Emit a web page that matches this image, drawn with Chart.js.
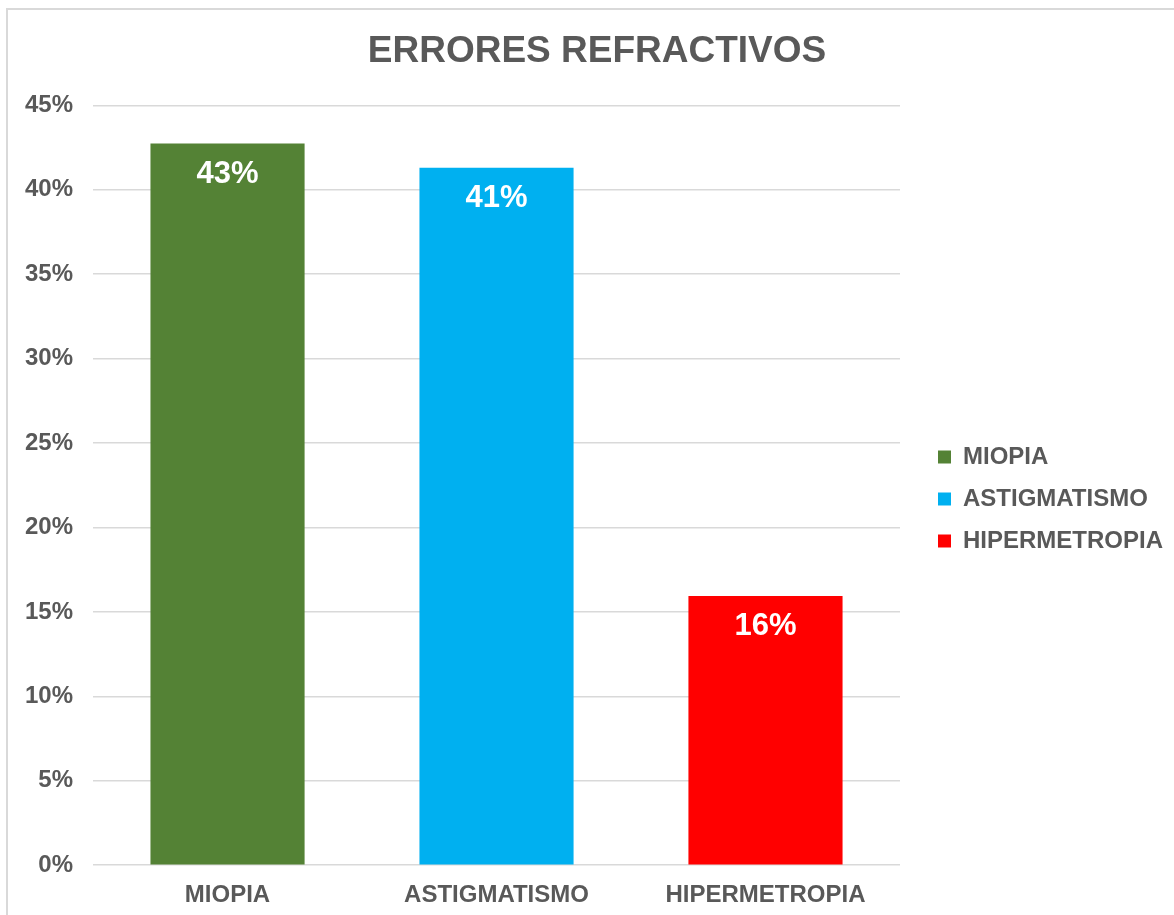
<!DOCTYPE html>
<html>
<head>
<meta charset="utf-8">
<title>Errores refractivos</title>
<script src="https://cdn.jsdelivr.net/npm/chart.js@4.4.1/dist/chart.umd.min.js"></script>
<style>
  html, body { margin: 0; padding: 0; background: #fff; overflow: hidden; }
  #frame {
    position: absolute; left: 6px; top: 8px;
    width: 1200px; height: 940px;
    border: 2px solid #d9d9d9; box-sizing: border-box;
  }
  #box { position: absolute; left: 0; top: 0; width: 1166px; height: 908px; }
</style>
</head>
<body>
<div id="frame"><div id="box"><canvas id="chart"></canvas></div></div>
<script>
  const categories = ['MIOPIA', 'ASTIGMATISMO', 'HIPERMETROPIA'];
  const percents = [42.75, 41.3, 15.95];
  const barColors = ['#548235', '#00b0f0', '#ff0000'];
  const yTicks = [0, 5, 10, 15, 20, 25, 30, 35, 40, 45];

  const grey = '#595959';
  const font = '"Liberation Sans", Arial, sans-serif';

  // white value labels just under the top of each bar
  const barLabels = {
    id: 'barLabels',
    afterDatasetsDraw(chart) {
      const ctx = chart.ctx;
      const meta = chart.getDatasetMeta(0);
      ctx.save();
      ctx.fillStyle = '#ffffff';
      ctx.font = 'bold 31px ' + font;
      ctx.textAlign = 'center';
      ctx.textBaseline = 'middle';
      meta.data.forEach((bar, i) => {
        ctx.fillText(Math.round(percents[i]) + '%', bar.x, bar.y + 31);
      });
      ctx.restore();
    }
  };

  // nudge the legend block right/down and centre the title on the whole canvas
  const boxShift = {
    id: 'boxShift',
    afterLayout(chart) {
      const lg = chart.legend;
      if (lg) {
        lg.left += 20; lg.right += 20;
        lg.top += 35; lg.bottom += 35;
      }
      const tt = chart.titleBlock;
      if (tt) {
        tt.left += 18; tt.right += 18;
      }
    }
  };

  new Chart(document.getElementById('chart'), {
    type: 'bar',
    data: {
      labels: categories,
      datasets: [{
        label: 'Errores refractivos',
        data: percents,
        backgroundColor: barColors,
        borderWidth: 0,
        categoryPercentage: 1,
        barPercentage: 0.573
      }]
    },
    options: {
      responsive: true,
      maintainAspectRatio: false,
      animation: false,
      layout: { padding: { left: -3, right: 21, top: 0, bottom: 0 } },
      plugins: {
        title: {
          display: true,
          text: 'ERRORES REFRACTIVOS',
          color: grey,
          font: { family: font, size: 37, weight: 'bold' },
          padding: { top: 20, bottom: 31 }
        },
        legend: {
          position: 'right',
          labels: {
            color: grey,
            font: { family: font, size: 24, weight: 'bold' },
            boxWidth: 13,
            boxHeight: 13,
            padding: 18,
            generateLabels: () => categories.map((c, i) => ({
              text: c,
              fillStyle: barColors[i],
              strokeStyle: barColors[i],
              lineWidth: 0,
              fontColor: grey,
              index: i
            }))
          },
          onClick: () => {}
        },
        tooltip: { enabled: false }
      },
      scales: {
        x: {
          grid: { display: false },
          border: { display: false },
          ticks: {
            color: grey,
            font: { family: font, size: 24, weight: 'bold' },
            padding: 8
          }
        },
        y: {
          min: 0,
          max: 45,
          afterBuildTicks: axis => { axis.ticks = yTicks.map(v => ({ value: v })); },
          grid: { color: '#d9d9d9', lineWidth: 1.5, drawTicks: false },
          border: { display: false },
          ticks: {
            color: grey,
            font: { family: font, size: 24, weight: 'bold' },
            padding: 20,
            callback: v => v + '%'
          }
        }
      }
    },
    plugins: [barLabels, boxShift]
  });
</script>
</body>
</html>
